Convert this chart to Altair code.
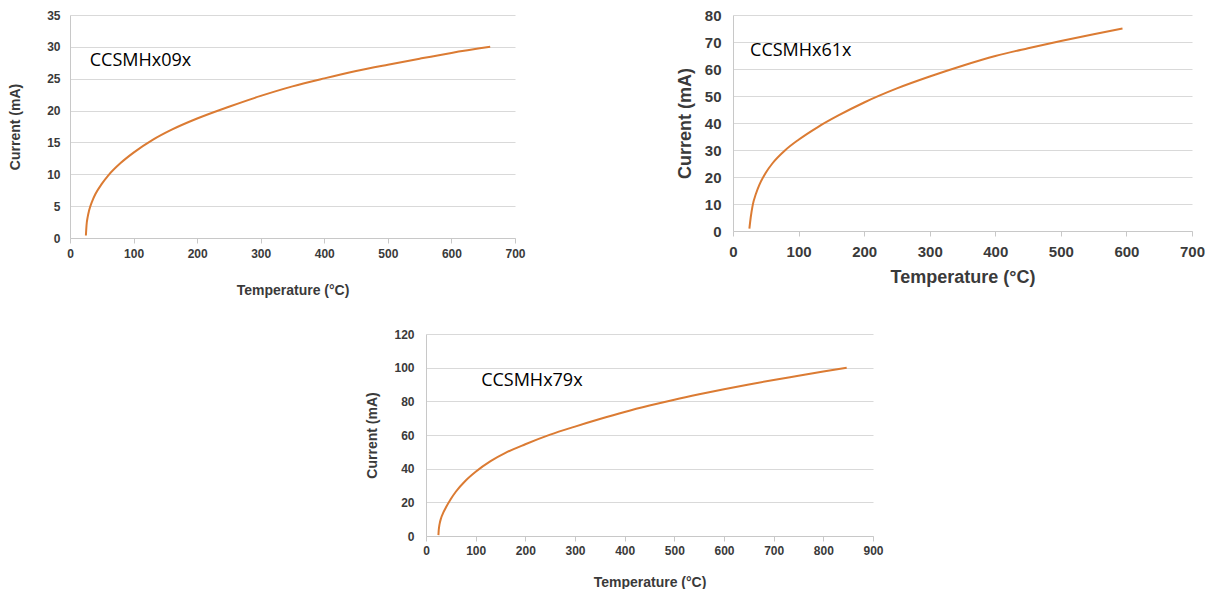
import altair as alt
import pandas as pd

ORANGE = "#DB7B33"
LABEL_COLOR = "#3A3A3A"
GRID = "#D9D9D9"
DOMAIN = "#C8C8C8"

# Panel 1: CCSMHx09x
t1 = [25, 26, 28, 30, 35, 40, 50, 60, 80, 100, 130, 160, 200, 250, 300, 350, 400, 450, 500, 550, 600, 661]
i1 = [0.4, 2.0, 3.4, 4.3, 5.8, 6.9, 8.5, 9.8, 11.8, 13.4, 15.4, 17.0, 18.75, 20.6, 22.3, 23.8, 25.05,
      26.2, 27.2, 28.15, 29.05, 30.0]

# Panel 2: CCSMHx61x
t2 = [25, 27, 30, 35, 40, 50, 60, 80, 100, 130, 160, 200, 250, 300, 350, 400, 450, 500, 550, 594]
i2 = [0.9, 5, 9.5, 13.8, 17, 21.6, 25, 30, 33.8, 38.6, 42.7, 47.6, 52.8, 57.2, 61.2, 64.8, 67.7,
      70.4, 72.9, 75]

# Panel 3: CCSMHx79x
t3 = [25, 25.5, 26.5, 28, 30, 35, 40, 50, 60, 80, 100, 130, 160, 200, 250, 300, 350, 400, 450, 500,
      550, 600, 650, 700, 750, 800, 847]
i3 = [0.5, 3.0, 5.6, 8.0, 10.3, 14.0, 16.9, 22, 26.3, 33, 38.2, 44.5, 49.4, 54.5, 60.2, 65, 69.5,
      73.7, 77.5, 81, 84.2, 87.2, 90, 92.7, 95.2, 97.7, 100]

labels = ["CCSMHx09x", "CCSMHx61x", "CCSMHx79x"]
label_t = [31, 26, 111]
label_i = [27.8, 66.7, 92]

x_title = "Temperature (°C)"
y_title = "Current (mA)"


def panel(temp, cur, xmax, ymax, ystep, label, lt, li, w, h,
          tick_fs, title_fs, xlp, xtp, ylp, ytp):
    df = pd.DataFrame({"t": temp, "c": cur})
    xaxis = alt.Axis(
        title=x_title, values=list(range(0, xmax + 1, 100)), grid=False,
        labelFont="Liberation Sans", labelFontWeight="bold", labelFontSize=tick_fs,
        labelColor=LABEL_COLOR, titleFont="Liberation Sans", titleFontWeight="bold",
        titleFontSize=title_fs, titleColor=LABEL_COLOR, domainColor=DOMAIN,
        tickColor=DOMAIN, tickSize=5, labelPadding=xlp, titlePadding=xtp,
        labelFlush=False, labelOverlap=False,
    )
    yaxis = alt.Axis(
        title=y_title, values=list(range(0, ymax + 1, ystep)), grid=True,
        gridColor=GRID, gridWidth=1.2, ticks=False, tickSize=0,
        labelFont="Liberation Sans", labelFontWeight="bold", labelFontSize=tick_fs,
        labelColor=LABEL_COLOR, titleFont="Liberation Sans", titleFontWeight="bold",
        titleFontSize=title_fs, titleColor=LABEL_COLOR, domainColor=DOMAIN,
        labelPadding=ylp, titlePadding=ytp, labelFlush=False, labelOverlap=False,
    )
    xenc = alt.X("t:Q", scale=alt.Scale(domain=[0, xmax], nice=False), axis=xaxis)
    yenc = alt.Y("c:Q", scale=alt.Scale(domain=[0, ymax], nice=False), axis=yaxis)
    line = alt.Chart(df).mark_line(color=ORANGE, strokeWidth=2, interpolate="monotone").encode(
        x=xenc, y=yenc,
    )
    tdf = pd.DataFrame({"t": [lt], "c": [li], "label": [label]})
    txt = alt.Chart(tdf).mark_text(
        align="left", baseline="middle", font="Open Sans", fontSize=18, color="#000000"
    ).encode(x=xenc, y=yenc, text="label:N")
    return alt.layer(line, txt).properties(width=w, height=h)


p1 = panel(t1, i1, 700, 35, 5, labels[0], label_t[0], label_i[0], 445, 223,
           12, 14, 5, 24, 10, 24)
p2 = panel(t2, i2, 700, 80, 10, labels[1], label_t[1], label_i[1], 459, 216,
           15, 18, 8, 9, 12, 10)
p3 = panel(t3, i3, 900, 120, 20, labels[2], label_t[2], label_i[2], 447, 202,
           12, 14, 4, 19, 12, 14)

spacer = alt.Chart(pd.DataFrame({"a": [0]})).mark_point(opacity=0, size=1).encode(
    x=alt.value(0), y=alt.value(0)
).properties(width=295, height=10)

top = alt.hconcat(p1, p2, spacing=150)
bottom = alt.hconcat(spacer, p3, spacing=0)

chart = alt.vconcat(top, bottom, spacing=31).properties(padding=0).configure_view(stroke=None)

chart.save("out.html", embed_options={"renderer": "svg", "actions": False})
